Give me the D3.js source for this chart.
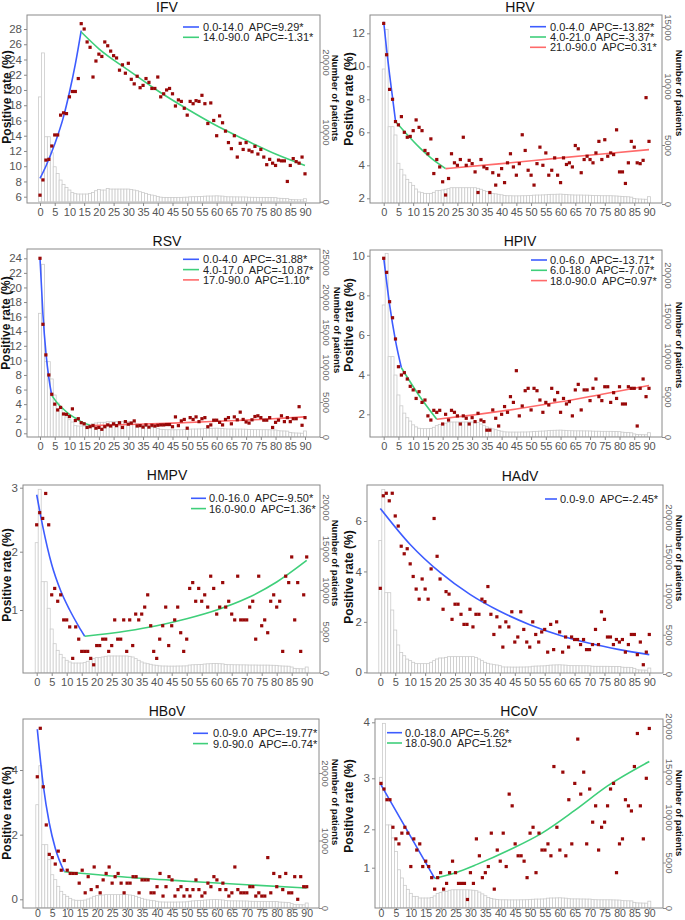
<!DOCTYPE html>
<html><head><meta charset="utf-8">
<script src="https://cdn.jsdelivr.net/npm/d3@7"></script>
<style>
body{margin:0;background:#fff;}
svg{display:block;font-family:"Liberation Sans",Arial,sans-serif;}
text{white-space:pre;}
</style></head><body>
<svg id="c" width="685" height="920"></svg>
<script>
// ---------- DATA ----------
const xTicks = [0,5,10,15,20,25,30,35,40,45,50,55,60,65,70,75,80,85,90];

const ifvRate = [6.2,8.2,10.8,10.9,12.65,14.1,14.1,16.7,17.0,16.9,
19.1,19.8,19.8,21.5,28.7,28.0,26.3,25.6,21.7,23.8,
24.7,24.4,26.3,25.8,25.1,24.5,24.2,22.6,23.3,22.2,
23.5,21.4,20.8,21.8,20.3,20.6,21.5,21.0,20.2,20.2,
21.7,19.1,19.5,20.0,20.2,19.5,17.9,18.7,18.5,17.6,
16.7,18.5,18.2,18.6,18.5,19.3,18.2,15.6,18.3,16.0,
14.0,16.6,15.7,14.6,13.1,12.3,14.0,11.2,13.0,12.2,
13.1,12.1,11.9,12.6,11.6,12.2,11.2,10.2,10.9,10.4,
10.1,10.8,10.7,10.7,8.0,10.1,11.0,10.6,10.4,11.2,9.0];
const ifvPatients = [15000,21300,9300,9300,7000,5000,4050,3100,2480,2050,1670,
1300,1150,1100,1100,1100,1100,1190,1330,1570,1760,
1670,1670,1900,1810,1810,1810,1810,1810,1810,1810,
1760,1670,1570,1430,1300,1190,1050,950,860,760,
650,620,600,600,600,600,620,620,640,650,
700,714,714,730,750,790,810,810,820,840,
820,800,720,700,700,690,690,680,680,670,
640,630,630,620,620,620,610,610,600,580,
500,480,460,440,320,290,280,270,260,430];
const ifvFits = [
 [[0,8.4],[2,10.0],[5,12.9],[8,16.5],[10,19.7],[12,23.4],[14,27.8]],
 [[14,27.6],[20,25.4],[30,22.6],[40,19.9],[50,17.5],[60,15.3],[70,13.4],[80,11.6],[90,10.1]]];
const ifvLegend = ["0.0-14.0  APC=9.29*","14.0-90.0  APC=-1.31*"];
const ifvRateTicks = [6,8,10,12,14,16,18,20,22,24,26,28];
const ifvPatientTicks = [0,10000,20000];

const hrvRate = [12.6,10.7,8.6,8.0,6.65,6.45,6.95,6.0,5.7,5.75,
6.1,6.75,6.3,6.1,4.9,4.7,5.6,3.5,4.35,3.9,
3.0,2.2,3.2,4.7,4.15,4.0,4.35,5.7,4.0,4.3,
4.1,3.6,2.35,4.35,3.9,3.8,2.35,3.55,2.8,3.4,
3.8,2.95,4.15,4.7,3.9,3.4,4.1,5.85,4.9,3.7,
3.4,2.8,4.1,5.1,4.0,4.75,3.4,3.7,4.45,3.4,
2.95,4.45,4.05,4.15,3.9,5.2,5.0,3.55,4.35,4.55,
4.35,4.15,4.75,5.45,4.35,5.55,4.55,4.75,4.65,6.15,
3.6,3.6,2.9,4.15,5.45,5.1,4.15,4.1,4.3,8.1,5.45];
const hrvPatients = [11440,14800,6550,6550,5850,3450,2940,2460,2090,1810,1580,
1270,1020,960,900,900,900,990,1130,1150,1190,
1250,1300,1380,1380,1380,1380,1380,1380,1380,1380,
1380,1330,1250,1130,1050,950,900,860,820,780,
720,700,700,690,690,690,700,700,710,720,
750,760,760,770,780,800,820,820,830,840,
820,810,780,770,760,760,760,750,750,740,
720,710,710,700,700,700,700,690,680,660,
630,620,610,580,460,430,420,410,400,620];
const hrvFits = [
 [[0,12.7],[1,11.0],[2,9.5],[3,8.1],[4,6.7]],
 [[4,6.65],[8,5.85],[12,5.1],[16,4.45],[21,3.8]],
 [[21,3.8],[40,4.1],[60,4.45],[75,4.7],[90,4.95]]];
const hrvLegend = ["0.0-4.0  APC=-13.82*","4.0-21.0  APC=-3.37*","21.0-90.0  APC=0.31*"];
const hrvRateTicks = [2,4,6,8,10,12];
const hrvPatientTicks = [0,5000,10000,15000];

const rsvRate = [24.0,14.95,10.75,8.0,5.35,4.0,3.2,3.55,2.65,2.6,
2.3,3.35,1.75,2.0,1.45,1.3,0.8,0.9,1.05,0.7,
0.8,0.55,0.9,1.15,1.0,1.3,1.05,1.45,0.8,1.6,
1.25,1.4,1.7,1.0,1.05,0.85,1.15,0.85,1.1,1.0,
1.1,1.15,1.15,1.2,1.2,0.9,2.25,1.05,1.7,1.9,
0.7,2.15,1.9,2.25,1.6,2.0,2.15,0.9,1.15,1.8,
1.8,1.5,1.15,1.9,2.15,1.3,2.25,1.85,2.9,1.9,
1.55,1.4,1.85,2.3,2.4,2.15,1.8,1.8,2.15,0.8,
1.5,1.8,2.4,1.6,2.15,1.6,2.0,2.0,3.65,1.1,2.15];
const rsvPatients = [17670,24670,10760,10760,8290,6000,4860,4040,3330,2860,2470,
2140,1620,1570,1570,1570,1600,1810,1900,2000,2100,
2100,2100,2190,2190,2190,2190,2190,2190,2190,2190,
2190,2140,1900,1760,1620,1520,1430,1380,1330,1240,
1100,1060,1040,1040,1030,1030,1040,1040,1060,1080,
1120,1140,1140,1150,1160,1200,1240,1240,1250,1260,
1240,1220,1160,1140,1140,1140,1130,1130,1120,1110,
1080,1060,1050,1050,1040,1040,1040,1030,1020,1000,
900,870,860,840,650,590,570,560,540,860];
const rsvFits = [
 [[0,24],[1,16.3],[2,11.1],[3,7.6],[4,5.2]],
 [[4,5.2],[6,4.1],[8,3.3],[10,2.6],[12,2.1],[14,1.6],[17,1.1]],
 [[17,1.05],[30,1.2],[45,1.4],[60,1.65],[75,1.9],[90,2.25]]];
const rsvLegend = ["0.0-4.0  APC=-31.88*","4.0-17.0  APC=-10.87*","17.0-90.0  APC=1.10*"];
const rsvRateTicks = [0,2,4,6,8,10,12,14,16,18,20,22,24];
const rsvPatientTicks = [0,5000,10000,15000,20000,25000];

const hpivRate = [9.87,9.16,7.68,6.87,5.8,4.4,3.98,4.1,3.78,3.41,
3.23,2.8,3.14,2.6,2.72,1.92,1.71,2.2,2.1,2.2,
1.51,2.0,1.71,2.2,2.1,1.92,1.51,1.92,1.8,1.51,
1.83,1.63,2.05,1.71,1.63,1.2,1.2,2.22,1.8,1.41,
2.0,2.39,2.1,2.89,2.6,4.2,1.92,2.42,3.19,3.31,
2.22,3.31,3.19,2.72,2.1,2.6,2.47,3.31,2.72,3.1,
2.1,2.8,2.52,2.64,1.92,3.23,3.51,2.22,3.23,3.23,
2.69,3.31,3.78,2.89,2.69,3.39,3.39,2.6,3.09,2.8,
3.39,2.52,2.52,3.39,3.31,3.31,1.41,3.31,3.78,2.89,3.31];
const hpivPatients = [16300,22670,9920,9920,7650,5190,3850,2950,2380,1970,1500,
1250,1080,1030,1030,1030,1050,1200,1400,1550,1650,
1700,1780,1850,1850,1850,1850,1850,1850,1850,1850,
1820,1780,1600,1400,1250,1100,1000,900,800,720,
640,620,610,610,610,610,620,620,630,640,
680,700,720,730,750,790,820,830,840,850,
830,810,780,770,760,760,760,750,750,740,
720,710,710,700,700,700,700,690,680,660,
600,570,550,520,380,310,290,280,270,530];
const hpivFits = [
 [[0,9.9],[2,7.53],[4,5.72],[6,4.35]],
 [[6,4.35],[12,2.95],[18,1.75]],
 [[18,1.75],[30,1.96],[45,2.27],[60,2.63],[75,3.04],[90,3.45]]];
const hpivLegend = ["0.0-6.0  APC=-13.71*","6.0-18.0  APC=-7.07*","18.0-90.0  APC=0.97*"];
const hpivRateTicks = [2,4,6,8,10];
const hpivPatientTicks = [0,5000,10000,15000,20000];

const hmpvRate = [2.42,2.61,2.52,2.91,2.42,1.26,1.37,1.15,1.26,0.83,
0.83,0.71,0.17,0.71,0.5,0.29,0.29,0.29,0.17,0.06,
0.39,0.39,0.5,0.5,0.29,0.39,0.83,0.5,0.5,0.83,
0.29,0.83,0.39,0.93,0.83,0.93,1.05,1.26,0.73,0.29,
0.17,0.5,0.73,1.05,0.39,0.73,0.83,1.05,0.61,0.29,
0.5,1.37,1.47,1.15,1.37,1.15,1.26,1.05,1.58,1.37,
0.93,1.05,1.47,1.05,1.15,0.93,0.83,1.58,0.83,0.83,
0.83,1.05,1.15,0.5,1.58,0.73,0.83,0.61,1.15,1.26,
1.05,1.15,0.29,1.58,1.47,1.91,0.83,1.47,0.29,1.26,1.91];
const hmpvPatients = [15700,22130,11000,11000,7800,5300,3530,2730,2250,1840,1530,
1330,1200,1200,1200,1200,1250,1410,1650,1730,1850,
1850,1930,2010,2050,2050,2050,2050,2050,2050,2050,
2010,1930,1730,1530,1330,1200,1120,1050,960,930,
860,840,840,830,830,830,840,840,850,860,
960,990,1000,1010,1020,1080,1110,1120,1140,1150,
1120,1100,1020,1000,1000,990,990,980,980,970,
960,960,960,950,950,950,950,940,930,920,
860,840,830,820,720,560,520,510,500,720];
const hmpvFits = [
 [[0,2.89],[2,2.4],[5,1.78],[8,1.33],[11,1.0],[14,0.72],[16,0.55]],
 [[16,0.55],[30,0.64],[40,0.73],[50,0.85],[60,1.0],[70,1.2],[80,1.48],[90,1.85]]];
const hmpvLegend = ["0.0-16.0  APC=-9.50*","16.0-90.0  APC=1.36*"];
const hmpvRateTicks = [1,2,3];
const hmpvPatientTicks = [0,5000,10000,15000,20000];

const hadvRate = [3.33,7.0,7.1,6.8,7.1,6.2,5.8,5.0,4.7,4.9,
4.3,3.8,3.3,2.9,3.7,3.3,2.9,4.1,6.1,4.6,
3.7,2.5,3.2,3.1,2.1,2.7,2.7,2.3,1.9,1.9,
2.5,1.8,2.3,2.3,2.9,2.8,3.4,2.3,1.5,2.2,
1.8,1.0,2.0,1.8,2.4,1.2,1.4,2.4,1.7,1.2,
1.0,2.0,1.5,1.2,1.6,1.7,0.8,1.9,0.9,2.0,
1.6,0.8,1.4,1.0,1.4,1.3,1.3,1.1,1.3,0.9,
0.9,1.1,1.7,1.1,2.4,2.1,1.4,1.4,1.1,1.3,
1.2,1.3,0.8,1.1,1.5,1.5,0.7,1.2,0.3,0.8,1.5];
const hadvPatients = [17000,23500,10360,10360,8150,5600,3700,2750,2330,1900,1700,
1490,1320,1320,1320,1320,1320,1490,1700,1910,2040,
2040,2120,2210,2210,2210,2210,2210,2210,2210,2210,
2210,2120,1910,1700,1490,1360,1270,1190,1150,1060,
900,890,890,880,880,880,890,890,900,910,
990,1010,1020,1030,1040,1100,1130,1150,1160,1170,
1150,1130,1070,1060,1060,1060,1050,1050,1050,1040,
990,980,980,980,980,980,970,970,960,950,
870,850,850,840,720,530,510,500,490,760];
const hadvFits = [
 [[0,6.5],[10,5.07],[20,3.96],[30,3.09],[40,2.42],[50,1.89],[60,1.47],[70,1.15],[80,0.9],[90,0.7]]];
const hadvLegend = ["0.0-9.0  APC=-2.45*"];
const hadvRateTicks = [0,2,4,6];
const hadvPatientTicks = [0,5000,10000,15000,20000];

const hbovRate = [3.79,5.29,3.48,2.3,1.39,1.29,1.09,1.49,0.9,1.2,
0.9,0.8,0.8,0.8,0.5,0.9,0.2,0.7,0.3,1.0,
0.39,0.2,0.6,0.8,1.0,0.5,0.7,0.8,0.5,0.2,
0.5,0.5,0.7,0.7,0.2,0.6,0.6,0.6,0.2,0.2,
0.39,0.8,0.1,0.39,0.7,0.6,0.1,0.3,0.39,0.1,
0.3,0.1,0.3,0.6,0.3,0.1,0.2,0.5,0.39,0.7,
0.6,0.3,0.5,0.3,0.1,0.2,1.0,0.3,0.2,0.2,
0.2,0.39,0.39,0.1,0.2,0.1,0.1,1.29,0.2,0.8,
0.39,0.7,0.3,0.8,0.2,0.2,0.7,0.0,0.7,0.39,0.39];
const hbovPatients = [15300,21080,9380,9380,7160,4930,4200,3210,2470,1980,1730,
1430,1200,1140,1140,1140,1180,1330,1480,1730,1850,
1900,1930,1980,1980,1980,1980,1980,1980,1980,1980,
1930,1850,1730,1580,1430,1300,1200,1140,1080,1000,
900,890,880,880,880,880,890,890,900,920,
1000,1050,1080,1100,1120,1180,1210,1230,1240,1250,
1220,1190,1100,1070,1060,1060,1050,1050,1040,1040,
1000,990,990,980,980,980,970,970,960,950,
880,860,840,830,650,500,490,480,470,740];
const hbovFits = [
 [[0,5.26],[2,3.52],[4,2.36],[6,1.58],[9,0.86]],
 [[9,0.85],[30,0.68],[50,0.56],[70,0.45],[90,0.35]]];
const hbovLegend = ["0.0-9.0  APC=-19.77*","9.0-90.0  APC=-0.74*"];
const hbovRateTicks = [0,2,4];
const hbovPatientTicks = [0,10000,20000];

const hcovRate = [2.90,2.79,2.58,2.58,2.04,1.75,1.62,1.9,2.04,1.9,
1.03,1.75,1.46,1.62,1.03,1.17,1.03,0.74,0.44,0.74,
0.87,0.44,0.59,0.87,1.17,0.87,0.59,0.59,0.59,0.17,
0.87,0.59,1.75,1.31,0.74,0.87,1.03,1.9,0.44,1.46,
1.17,1.9,1.03,2.69,2.46,1.62,1.31,1.31,1.17,0.74,
1.9,2.04,0.87,1.9,1.46,1.46,1.62,1.31,3.21,2.04,
1.46,3.11,1.31,2.58,1.62,2.9,3.70,2.69,3.11,1.62,
2.79,2.14,2.46,1.46,2.04,2.14,2.46,2.79,2.90,0.87,
1.62,1.75,2.58,2.46,2.36,3.21,3.80,2.46,1.75,3.0,3.89];
const hcovPatients = [14360,20290,9130,9130,7700,6200,4200,3300,2490,2050,1610,
1280,1280,1100,1100,1100,1100,1150,1330,1600,1700,
1830,1830,1950,2000,2000,2000,2000,2000,2000,1980,
1950,1900,1750,1550,1350,1150,1050,980,930,900,
900,900,890,890,890,890,900,900,910,920,
960,980,980,990,1000,1080,1100,1100,1110,1120,
1100,1080,1020,1000,1000,1000,990,990,980,980,
920,910,900,900,900,900,900,890,880,870,
810,800,790,780,620,560,550,540,530,750];
const hcovFits = [
 [[0,2.87],[9,1.94],[18,0.72]],
 [[18,0.72],[25,0.87],[32,1.08],[43,1.46],[54,1.9],[65,2.37],[76,2.85],[90,3.3]]];
const hcovLegend = ["0.0-18.0  APC=-5.26*","18.0-90.0  APC=1.52*"];
const hcovRateTicks = [1,2,3,4];
const hcovPatientTicks = [0,5000,10000,15000,20000];

// ---------- LAYOUT ----------
const fitColors = ["#3d5cff","#3fcf7a","#ff6a6a"];
const panels = [
 {title:"IFV", rate:ifvRate, patients:ifvPatients, fits:ifvFits, legend:ifvLegend, rTicks:ifvRateTicks, nTicks:ifvPatientTicks,
  box:[27,320,15,203], x0:40, x90:305, rMap:[[6,196.7],[28,29]], nMap:[[0,201.7],[20000,62]],
  titleXY:[167,12], ylabXY:[7,97], y2labXY:[335,98], leg:{x1:183,x2:199,tx:203,y0:27}},
 {title:"HRV", rate:hrvRate, patients:hrvPatients, fits:hrvFits, legend:hrvLegend, rTicks:hrvRateTicks, nTicks:hrvPatientTicks,
  box:[370,662,15,203], x0:383.7, x90:649, rMap:[[2,198.3],[12,33.3]], nMap:[[0,204],[15000,27]],
  titleXY:[520,12], ylabXY:[349,99], y2labXY:[679,93], leg:{x1:530,x2:546,tx:550,y0:26.7}},
 {title:"RSV", rate:rsvRate, patients:rsvPatients, fits:rsvFits, legend:rsvLegend, rTicks:rsvRateTicks, nTicks:rsvPatientTicks,
  box:[27,320,249,437], x0:40, x90:305, rMap:[[0,433.3],[24,258.3]], nMap:[[0,437],[25000,262]],
  titleXY:[167,245.7], ylabXY:[6,323], y2labXY:[337,330], leg:{x1:183,x2:199,tx:203,y0:259.3}},
 {title:"HPIV", rate:hpivRate, patients:hpivPatients, fits:hpivFits, legend:hpivLegend, rTicks:hpivRateTicks, nTicks:hpivPatientTicks,
  box:[370,662,250,437], x0:383.7, x90:649, rMap:[[2,414.3],[10,255.7]], nMap:[[0,437],[20000,275]],
  titleXY:[520,245.7], ylabXY:[349,325], y2labXY:[679,345], leg:{x1:531,x2:547,tx:550,y0:260}},
 {title:"HMPV", rate:hmpvRate, patients:hmpvPatients, fits:hmpvFits, legend:hmpvLegend, rTicks:hmpvRateTicks, nTicks:hmpvPatientTicks,
  box:[23,320,485,673], x0:36.7, x90:306.7, rMap:[[0,668.3],[1,610],[2,551.7],[3,487.7]], nMap:[[0,673],[20000,507]],
  titleXY:[167,480], ylabXY:[7,575], y2labXY:[335,563], leg:{x1:191,x2:206,tx:209,y0:498.3}},
 {title:"HAdV", rate:hadvRate, patients:hadvPatients, fits:hadvFits, legend:hadvLegend, rTicks:hadvRateTicks, nTicks:hadvPatientTicks,
  box:[367,663,485,673], x0:380.3, x90:649.3, rMap:[[0,672.3],[6,521]], nMap:[[0,674],[20000,517]],
  titleXY:[520,480.5], ylabXY:[349,577], y2labXY:[679,558], leg:{x1:545,x2:557,tx:560,y0:499}},
 {title:"HBoV", rate:hbovRate, patients:hbovPatients, fits:hbovFits, legend:hbovLegend, rTicks:hbovRateTicks, nTicks:hbovPatientTicks,
  box:[23,319,719,908], x0:37.3, x90:306.7, rMap:[[0,899.3],[4,770]], nMap:[[0,908],[20000,773]],
  titleXY:[167,716], ylabXY:[7,813], y2labXY:[335,802], leg:{x1:193,x2:208,tx:213,y0:733.3}},
 {title:"HCoV", rate:hcovRate, patients:hcovPatients, fits:hcovFits, legend:hcovLegend, rTicks:hcovRateTicks, nTicks:hcovPatientTicks,
  box:[375,663,719,908], x0:381, x90:649.3, rMap:[[0,906],[1,867.7],[2,829.3],[3,778.3],[4,722.3]], nMap:[[0,908],[20000,726]],
  titleXY:[519,716], ylabXY:[349,806], y2labXY:[679,813], leg:{x1:387,x2:402,tx:405,y0:732.7}}
];

// ---------- DRAW ----------
const svg = d3.select("#c");
const defs = svg.append("defs");
const H = 920;

panels.forEach((p, pi) => {
  const [L, R, T, B] = p.box;
  const g = svg.append("g");
  const x = d3.scaleLinear().domain([0, 90]).range([p.x0, p.x90]);
  const r = d3.scaleLinear().domain(p.rMap.map(d => d[0])).range(p.rMap.map(d => d[1]));
  const n = d3.scaleLinear().domain(p.nMap.map(d => d[0])).range(p.nMap.map(d => d[1]));
  const bw = (p.x90 - p.x0) / 90;

  defs.append("clipPath").attr("id", "clip" + pi)
    .append("rect").attr("x", L).attr("y", T).attr("width", R - L).attr("height", B - T);

  // bars (number of patients)
  g.append("g").attr("clip-path", `url(#clip${pi})`)
    .selectAll("rect").data(p.patients).join("rect")
    .attr("x", (d, i) => x(i) - bw / 2)
    .attr("width", bw)
    .attr("y", d => n(d))
    .attr("height", d => n(0) - n(d))
    .attr("fill", "#fff")
    .attr("stroke", "#cbcbcb")
    .attr("stroke-width", 0.8);

  // fitted joinpoint segments
  const line = d3.line().x(d => x(d[0])).y(d => r(d[1])).curve(d3.curveMonotoneX);
  p.fits.forEach((seg, k) => {
    g.append("path").datum(seg).attr("d", line)
      .attr("fill", "none").attr("stroke", fitColors[k]).attr("stroke-width", 1.6);
  });

  // observed positive rate points
  g.append("g").selectAll("rect").data(p.rate).join("rect")
    .attr("x", (d, i) => x(i) - 1.6)
    .attr("y", d => r(d) - 1.6)
    .attr("width", 3.2).attr("height", 3.2)
    .attr("fill", "#980808");

  // box
  g.append("rect").attr("x", L).attr("y", T).attr("width", R - L).attr("height", B - T)
    .attr("fill", "none").attr("stroke", "#8a8a8a").attr("stroke-width", 1);

  // left axis
  const ay = g.append("g").attr("transform", `translate(${L},0)`)
    .call(d3.axisLeft(r).tickValues(p.rTicks).tickSize(3).tickPadding(2).tickFormat(d3.format("d")));
  ay.select(".domain").remove();
  ay.selectAll("line").attr("stroke", "#8a8a8a");
  ay.selectAll("text").attr("fill", "#555").attr("font-size", 11.5).attr("font-family", "Liberation Sans, Arial, sans-serif");

  // bottom axis (bottom row kept inside the page)
  const lowRow = B + 16 > H;
  const ax = g.append("g").attr("transform", `translate(0,${B})`)
    .call(d3.axisBottom(x).tickValues(xTicks).tickSize(lowRow ? 2 : 3).tickPadding(lowRow ? 0 : 2).tickFormat(d3.format("d")));
  ax.select(".domain").remove();
  ax.selectAll("line").attr("stroke", "#8a8a8a");
  ax.selectAll("text").attr("fill", "#555").attr("font-size", lowRow ? 10.5 : 11).attr("font-family", "Liberation Sans, Arial, sans-serif");

  // right axis (rotated labels)
  const an = g.append("g").attr("transform", `translate(${R},0)`)
    .call(d3.axisRight(n).tickValues(p.nTicks).tickSize(3).tickFormat(d3.format("d")));
  an.select(".domain").remove();
  an.selectAll("line").attr("stroke", "#8a8a8a");
  an.selectAll("text")
    .attr("x", null).attr("dy", null)
    .attr("transform", "translate(6,0) rotate(90)")
    .attr("text-anchor", "middle")
    .attr("dominant-baseline", "central")
    .attr("fill", "#666").attr("font-size", 9.5).attr("font-family", "Liberation Sans, Arial, sans-serif");

  // title
  g.append("text").attr("x", p.titleXY[0]).attr("y", p.titleXY[1])
    .attr("text-anchor", "middle").attr("font-size", 14).attr("fill", "#111").text(p.title);

  // y label
  g.append("text").attr("transform", `translate(${p.ylabXY[0]},${p.ylabXY[1]}) rotate(-90)`)
    .attr("text-anchor", "middle").attr("dominant-baseline", "central")
    .attr("font-size", 12).attr("font-weight", "bold").attr("fill", "#111").text("Positive rate (%)");

  // y2 label
  g.append("text").attr("transform", `translate(${p.y2labXY[0]},${p.y2labXY[1]}) rotate(90)`)
    .attr("text-anchor", "middle").attr("dominant-baseline", "central")
    .attr("font-size", 9.5).attr("font-weight", "bold").attr("fill", "#111").text("Number of patients");

  // legend
  p.legend.forEach((lab, k) => {
    const yy = p.leg.y0 + k * 10.3;
    g.append("line").attr("x1", p.leg.x1).attr("x2", p.leg.x2).attr("y1", yy).attr("y2", yy)
      .attr("stroke", fitColors[k]).attr("stroke-width", 1.6);
    g.append("text").attr("x", p.leg.tx).attr("y", yy).attr("dominant-baseline", "central")
      .attr("font-size", 11).attr("fill", "#222").text(lab);
  });
});
</script>
</body></html>
